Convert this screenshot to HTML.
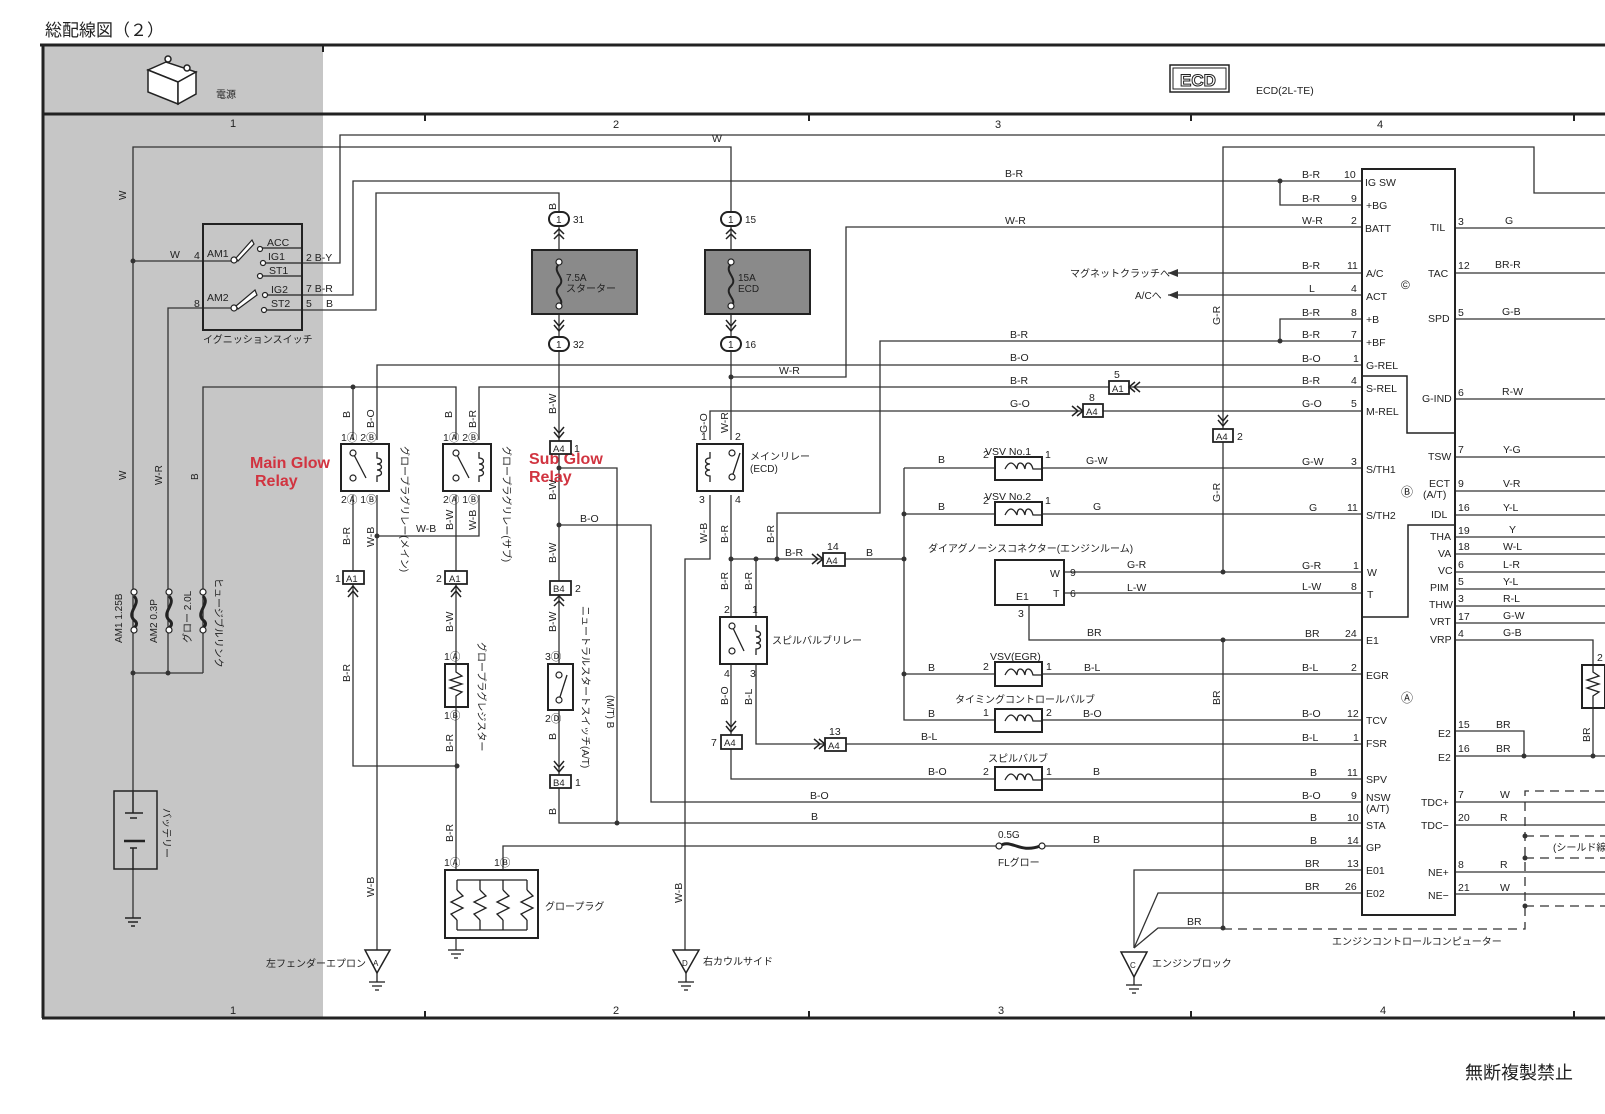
<!DOCTYPE html>
<html><head><meta charset="utf-8"><style>
html,body{margin:0;padding:0;background:#fff;}
svg{display:block;}
text{font-family:"Liberation Sans","Noto Sans CJK JP",sans-serif;fill:#222;}
.l{font-size:10.5px;}
.p{font-size:11px;}
.j{font-size:10px;}
</style></head><body>
<svg width="1605" height="1114" viewBox="0 0 1605 1114" xmlns="http://www.w3.org/2000/svg">
<rect x="0" y="0" width="1605" height="1114" fill="#fff"/>
<!-- frame -->
<rect x="42" y="45" width="281" height="973" fill="#c6c6c6"/>
<text x="45" y="36" style="font-size:17px">総配線図（２）</text>
<g stroke="#222" fill="none">
<line x1="40" y1="45" x2="1605" y2="45" stroke-width="3"/>
<line x1="42" y1="114" x2="1605" y2="114" stroke-width="3"/>
<line x1="42" y1="1018" x2="1605" y2="1018" stroke-width="3"/>
<line x1="43" y1="45" x2="43" y2="1018" stroke-width="3"/>
<line x1="323" y1="45" x2="323" y2="52" stroke-width="2"/>
<line x1="425" y1="114" x2="425" y2="121" stroke-width="2"/><line x1="809" y1="114" x2="809" y2="121" stroke-width="2"/>
<line x1="1191" y1="114" x2="1191" y2="121" stroke-width="2"/><line x1="1574" y1="114" x2="1574" y2="121" stroke-width="2"/>
<line x1="425" y1="1011" x2="425" y2="1018" stroke-width="2"/><line x1="809" y1="1011" x2="809" y2="1018" stroke-width="2"/>
<line x1="1191" y1="1011" x2="1191" y2="1018" stroke-width="2"/><line x1="1574" y1="1011" x2="1574" y2="1018" stroke-width="2"/>
</g>
<g class="p"><text x="230" y="127">1</text><text x="613" y="128">2</text><text x="995" y="128">3</text><text x="1377" y="128">4</text>
<text x="230" y="1014">1</text><text x="613" y="1014">2</text><text x="998" y="1014">3</text><text x="1380" y="1014">4</text></g>
<text x="1465" y="1079" style="font-size:18px">無断複製禁止</text>
<!-- battery icon -->
<g stroke="#222" stroke-width="1.5" fill="#fff">
<path d="M148 70 L178 82 L196 72 L166 62 Z"/><path d="M148 70 L148 92 L178 104 L178 82 Z"/><path d="M178 82 L196 72 L196 94 L178 104 Z"/>
<circle cx="168" cy="59" r="3"/><circle cx="187" cy="68" r="3"/>
</g>
<text x="216" y="98" class="j">電源</text>
<rect x="1170" y="65" width="59" height="27" fill="none" stroke="#222" stroke-width="1.5"/>
<rect x="1173" y="68" width="53" height="21" fill="none" stroke="#222" stroke-width="1"/>
<text x="1180" y="86" style="font-size:17px;font-weight:bold;fill:#fff;stroke:#222;stroke-width:1">ECD</text>
<text x="1256" y="94" class="l">ECD(2L-TE)</text>

<!-- wires -->
<g stroke="#333" stroke-width="1.3" fill="none">
<!-- left power -->
<polyline points="133,792 133,147 731,147 731,212"/>
<polyline points="133,261 233,261"/>
<polyline points="168,673 168,308 233,308"/>
<polyline points="203,673 203,387 456,387 456,440"/>
<polyline points="133,673 203,673"/>
<line x1="133" y1="870" x2="133" y2="918"/>
<!-- ign switch outputs -->
<polyline points="302,263 340,263 340,135 1605,135"/>
<polyline points="302,295 353,295 353,181 1362,181"/>
<polyline points="1280,181 1280,205 1362,205"/>
<polyline points="302,310 376,310 376,193 559,193 559,212"/>
<!-- fuses -->
<line x1="559" y1="226" x2="559" y2="337"/><line x1="731" y1="226" x2="731" y2="337"/>
<!-- glow relays -->
<polyline points="377,440 377,365 1362,365"/>
<polyline points="353,440 353,387"/>
<polyline points="479,440 479,387 1362,387"/>
<polyline points="353,495 353,571"/><polyline points="353,584 353,766 457,766"/>
<polyline points="377,495 377,950"/>
<polyline points="377,536 479,536 479,495"/>
<polyline points="456,495 456,571"/><polyline points="456,584 456,664"/><polyline points="456,707 456,870"/>
<polyline points="503,870 503,846 1000,846"/><polyline points="1040,846 1362,846"/>
<line x1="456" y1="938" x2="456" y2="950"/>
<!-- starter line -->
<polyline points="559,351 559,441"/><polyline points="559,454 559,581"/><polyline points="559,595 559,664"/>
<polyline points="559,710 559,775"/><polyline points="559,788 559,823 1362,823"/>
<polyline points="559,468 617,468 617,823"/>
<polyline points="559,525 651,525 651,802 1362,802"/>
<!-- main relay -->
<polyline points="731,351 731,440"/>
<polyline points="731,377 846,377 846,227 1362,227"/>
<polyline points="710,440 710,411 1083,411"/><line x1="1103" y1="411" x2="1362" y2="411"/>
<polyline points="710,495 710,559 685,559 685,950"/>
<polyline points="731,495 731,617"/>
<polyline points="731,559 823,559"/><polyline points="845,559 904,559"/>
<polyline points="777,559 777,513 880,513 880,341 1362,341"/>
<polyline points="1280,341 1280,319 1362,319"/>
<polyline points="756,559 756,617"/>
<polyline points="731,664 731,735"/><polyline points="731,749 731,779 995,779"/><line x1="1042" y1="779" x2="1362" y2="779"/>
<polyline points="756,664 756,744 825,744"/><line x1="846" y1="744" x2="1362" y2="744"/>
<!-- VSVs -->
<polyline points="904,468 904,720 995,720"/><line x1="1042" y1="720" x2="1362" y2="720"/>
<line x1="904" y1="468" x2="995" y2="468"/><line x1="1042" y1="468" x2="1362" y2="468"/>
<line x1="904" y1="514" x2="995" y2="514"/><line x1="1042" y1="514" x2="1362" y2="514"/>
<line x1="904" y1="674" x2="995" y2="674"/><line x1="1042" y1="674" x2="1362" y2="674"/>
<line x1="1064" y1="572" x2="1362" y2="572"/><line x1="1064" y1="593" x2="1362" y2="593"/>
<polyline points="1029,605 1029,640 1362,640"/>
<!-- G-R / BR verticals -->
<polyline points="1223,572 1223,147 1534,147 1534,193 1605,193"/>
<line x1="1223" y1="640" x2="1223" y2="929"/>
<line x1="1168" y1="273" x2="1362" y2="273"/><line x1="1168" y1="295" x2="1362" y2="295"/>
<!-- grounds C -->
<polyline points="1134,948 1134,870 1362,870"/>
<polyline points="1134,948 1158,893 1362,893"/>
<polyline points="1134,948 1158,928 1223,928"/>
<!-- right pins -->
<line x1="1455" y1="228" x2="1605" y2="228"/><line x1="1455" y1="273" x2="1605" y2="273"/>
<line x1="1455" y1="319" x2="1605" y2="319"/><line x1="1455" y1="399" x2="1605" y2="399"/>
<line x1="1455" y1="457" x2="1605" y2="457"/><line x1="1455" y1="491" x2="1605" y2="491"/>
<line x1="1455" y1="515" x2="1605" y2="515"/><line x1="1455" y1="537" x2="1605" y2="537"/>
<line x1="1455" y1="554" x2="1605" y2="554"/><line x1="1455" y1="572" x2="1605" y2="572"/>
<line x1="1455" y1="589" x2="1605" y2="589"/><line x1="1455" y1="606" x2="1605" y2="606"/>
<line x1="1455" y1="623" x2="1605" y2="623"/>
<polyline points="1455,640 1593,640 1593,665"/><line x1="1593" y1="708" x2="1593" y2="756"/>
<polyline points="1455,731 1524,731 1524,756"/><line x1="1455" y1="756" x2="1605" y2="756"/>
<line x1="1455" y1="802" x2="1605" y2="802"/><line x1="1455" y1="825" x2="1605" y2="825"/>
<line x1="1455" y1="872" x2="1605" y2="872"/><line x1="1455" y1="894" x2="1605" y2="894"/>
</g>
<g stroke="#333" stroke-width="1.3" fill="none" stroke-dasharray="9,6">
<polyline points="1223,929 1525,929 1525,791 1605,791"/>
<line x1="1525" y1="836" x2="1605" y2="836"/><line x1="1525" y1="858" x2="1605" y2="858"/><line x1="1525" y1="906" x2="1605" y2="906"/>
</g>
<!-- dots -->
<g fill="#333">
<circle cx="133" cy="261" r="2.5"/><circle cx="133" cy="673" r="2.5"/><circle cx="168" cy="673" r="2.5"/>
<circle cx="353" cy="387" r="2.5"/><circle cx="377" cy="536" r="2.5"/><circle cx="457" cy="766" r="2.5"/>
<circle cx="1280" cy="181" r="2.5"/><circle cx="1280" cy="341" r="2.5"/>
<circle cx="559" cy="468" r="2.5"/><circle cx="559" cy="525" r="2.5"/><circle cx="617" cy="823" r="2.5"/>
<circle cx="731" cy="377" r="2.5"/><circle cx="731" cy="559" r="2.5"/><circle cx="756" cy="559" r="2.5"/><circle cx="777" cy="559" r="2.5"/>
<circle cx="904" cy="559" r="2.5"/><circle cx="904" cy="514" r="2.5"/><circle cx="904" cy="674" r="2.5"/>
<circle cx="1223" cy="572" r="2.5"/><circle cx="1223" cy="640" r="2.5"/><circle cx="1223" cy="928" r="2.5"/>
<circle cx="1524" cy="756" r="2.5"/><circle cx="1593" cy="756" r="2.5"/>
<circle cx="1525" cy="836" r="2.5"/><circle cx="1525" cy="858" r="2.5"/><circle cx="1525" cy="906" r="2.5"/>
<polygon points="1168,273 1178,269 1178,277"/><polygon points="1168,295 1178,291 1178,299"/>
</g>
<!-- ignition switch -->
<rect x="203" y="224" width="99" height="106" fill="none" stroke="#222" stroke-width="2"/>
<g stroke="#222" stroke-width="1.2" fill="#fff">
<line x1="233" y1="261" x2="233" y2="261"/>
<circle cx="234" cy="260" r="3"/><polygon points="236,258 252,240 254,244 238,261"/>
<circle cx="234" cy="308" r="3"/><polygon points="236,306 255,290 257,295 238,309"/>
<circle cx="260" cy="249" r="2.5"/><circle cx="263" cy="263" r="2.5"/><circle cx="260" cy="276" r="2.5"/>
<circle cx="265" cy="295" r="2.5"/><circle cx="264" cy="310" r="2.5"/>
<line x1="262" y1="248" x2="302" y2="248" fill="none"/><line x1="266" y1="263" x2="302" y2="263"/><line x1="262" y1="276" x2="302" y2="276"/>
<line x1="268" y1="295" x2="302" y2="295"/><line x1="267" y1="310" x2="302" y2="310"/>
</g>
<g class="l"><text x="207" y="257">AM1</text><text x="207" y="301">AM2</text>
<text x="267" y="246">ACC</text><text x="268" y="260">IG1</text><text x="269" y="274">ST1</text><text x="271" y="293">IG2</text><text x="271" y="307">ST2</text>
<text x="170" y="258">W</text><text x="194" y="259">4</text><text x="194" y="307">8</text>
<text x="306" y="261">2 B-Y</text><text x="306" y="292">7 B-R</text><text x="306" y="307">5</text><text x="326" y="307">B</text></g>
<text x="203" y="343" class="j">イグニッションスイッチ</text>
<!-- fusible links -->
<g stroke="#222" stroke-width="3" fill="none">
<path d="M134 596 C142 604,126 612,134 620 C142 626,128 630,134 630"/>
<path d="M169 596 C177 604,161 612,169 620 C177 626,163 630,169 630"/>
<path d="M203 596 C211 604,195 612,203 620 C211 626,197 630,203 630"/>
</g>
<g fill="#fff" stroke="#222" stroke-width="1.2">
<circle cx="134" cy="592" r="3"/><circle cx="134" cy="630" r="3"/><circle cx="169" cy="592" r="3"/><circle cx="169" cy="630" r="3"/><circle cx="203" cy="592" r="3"/><circle cx="203" cy="630" r="3"/>
</g>
<g class="j">
<text transform="translate(122,643) rotate(-90)">AM1 1.25B</text>
<text transform="translate(157,643) rotate(-90)">AM2 0.3P</text>
<text transform="translate(191,643) rotate(-90)">グロー 2.0L</text>
<text transform="translate(215,578) rotate(90)">ヒュージブルリンク</text>
<text transform="translate(126,480) rotate(-90)">W</text>
<text transform="translate(162,485) rotate(-90)">W-R</text>
<text transform="translate(198,480) rotate(-90)">B</text>
<text transform="translate(126,200) rotate(-90)">W</text>
<text transform="translate(163,808) rotate(90)">バッテリー</text>
</g>
<!-- battery -->
<rect x="114" y="791" width="43" height="78" fill="none" stroke="#222" stroke-width="1.5"/>
<g stroke="#222" stroke-width="1.5"><line x1="125" y1="813" x2="143" y2="813"/><line x1="130" y1="818" x2="137" y2="818"/><line x1="124" y1="841" x2="145" y2="841" stroke-width="2.5"/><line x1="130" y1="848" x2="137" y2="848"/>
<line x1="133" y1="792" x2="133" y2="813"/><line x1="133" y1="848" x2="133" y2="870"/>
<line x1="125" y1="918" x2="141" y2="918"/><line x1="128" y1="922" x2="138" y2="922"/><line x1="131" y1="926" x2="135" y2="926"/></g>
<!-- red labels -->
<g style="font-size:16px;font-weight:bold;fill:#d13440">
<text x="250" y="468" style="fill:#d13440">Main Glow</text><text x="255" y="486" style="fill:#d13440">Relay</text>
<text x="529" y="464" style="fill:#d13440">Sub Glow</text><text x="529" y="482" style="fill:#d13440">Relay</text></g>
<!-- relays -->
<g stroke="#222" stroke-width="2" fill="none">
<rect x="341" y="444" width="48" height="47"/><rect x="443" y="444" width="48" height="47"/>
<rect x="697" y="444" width="46" height="47"/><rect x="720" y="617" width="47" height="47"/>
<rect x="548" y="664" width="25" height="46"/>
<rect x="445" y="664" width="23" height="43"/>
<rect x="445" y="870" width="93" height="68"/>
<rect x="532" y="250" width="105" height="64" fill="#8a8a8a"/>
<rect x="705" y="250" width="105" height="64" fill="#8a8a8a"/>
<rect x="1362" y="169" width="93" height="746"/>
<polyline points="1362,376 1407,376 1407,433 1455,433" stroke-width="1.5"/>
<polyline points="1455,525 1408,525 1408,617 1362,617" stroke-width="1.5"/>
<rect x="995" y="560" width="69" height="45"/>
<rect x="995" y="457" width="47" height="23"/><rect x="995" y="502" width="47" height="23"/>
<rect x="995" y="662" width="47" height="24"/><rect x="995" y="709" width="47" height="23"/><rect x="995" y="767" width="47" height="23"/>
<rect x="1582" y="665" width="23" height="43"/>
</g>
<g stroke="#222" stroke-width="1.3" fill="none">
<!-- switch contacts -->
<line x1="353" y1="453" x2="366" y2="478"/><line x1="456" y1="453" x2="469" y2="478"/>
<line x1="732" y1="477" x2="740" y2="453"/><line x1="732" y1="626" x2="744" y2="651"/>
<line x1="559" y1="700" x2="567" y2="675"/>
<path d="M377 452 v6 c6 0 6 6 0 6 c6 0 6 6 0 6 c6 0 6 6 0 6 v6"/>
<path d="M479 452 v6 c6 0 6 6 0 6 c6 0 6 6 0 6 c6 0 6 6 0 6 v6"/>
<path d="M710 452 v6 c-6 0 -6 6 0 6 c-6 0 -6 6 0 6 c-6 0 -6 6 0 6 v6"/>
<path d="M756 625 v6 c6 0 6 6 0 6 c6 0 6 6 0 6 c6 0 6 6 0 6 v6"/>
<polyline points="456,664 456,672 462,676 450,680 462,684 450,688 462,692 456,696 456,707"/>
<polyline points="457,890 463,896 451,902 463,908 451,914 457,920"/>
<polyline points="480,890 486,896 474,902 486,908 474,914 480,920"/>
<polyline points="503,890 509,896 497,902 509,908 497,914 503,920"/>
<polyline points="527,890 533,896 521,902 533,908 521,914 527,920"/>
<polyline points="457,880 527,880"/><polyline points="457,930 527,930"/>
<line x1="457" y1="880" x2="457" y2="890"/><line x1="480" y1="880" x2="480" y2="890"/><line x1="503" y1="880" x2="503" y2="890"/><line x1="527" y1="880" x2="527" y2="890"/>
<line x1="457" y1="920" x2="457" y2="930"/><line x1="480" y1="920" x2="480" y2="930"/><line x1="503" y1="920" x2="503" y2="930"/><line x1="527" y1="920" x2="527" y2="930"/>
<polyline points="1593,665 1593,672 1599,676 1587,680 1599,684 1587,688 1599,692 1593,696 1593,708"/>
<!-- fuse curves -->
<path d="M559 264 c-8 8 8 14 0 22 c-8 8 8 14 0 20" stroke-width="2"/>
<path d="M731 264 c-8 8 8 14 0 22 c-8 8 8 14 0 20" stroke-width="2"/>
<path d="M1000 846 c10 -8 20 8 40 0" stroke-width="3"/>
<!-- VSV coils -->
<path d="M1005 469 c4 -8 8 -8 12 0 c0 -8 6 -8 8 0 c0 -8 6 -8 8 0 h8"/>
<path d="M1005 515 c4 -8 8 -8 12 0 c0 -8 6 -8 8 0 c0 -8 6 -8 8 0 h8"/>
<path d="M1005 675 c4 -8 8 -8 12 0 c0 -8 6 -8 8 0 c0 -8 6 -8 8 0 h8"/>
<path d="M1005 721 c4 -8 8 -8 12 0 c0 -8 6 -8 8 0 c0 -8 6 -8 8 0 h8"/>
<path d="M1005 780 c4 -8 8 -8 12 0 c0 -8 6 -8 8 0 c0 -8 6 -8 8 0 h8"/>
<!-- grounds -->
<polygon points="365,950 390,950 377,973" stroke-width="1.5"/><line x1="377" y1="973" x2="377" y2="982"/>
<line x1="369" y1="982" x2="385" y2="982"/><line x1="372" y1="986" x2="382" y2="986"/><line x1="375" y1="990" x2="379" y2="990"/>
<polygon points="673,950 699,950 686,973" stroke-width="1.5"/><line x1="686" y1="973" x2="686" y2="982"/>
<line x1="678" y1="982" x2="694" y2="982"/><line x1="681" y1="986" x2="691" y2="986"/><line x1="684" y1="990" x2="688" y2="990"/>
<polygon points="1121,952 1147,952 1134,977" stroke-width="1.5"/><line x1="1134" y1="977" x2="1134" y2="985"/>
<line x1="1126" y1="985" x2="1142" y2="985"/><line x1="1129" y1="989" x2="1139" y2="989"/><line x1="1132" y1="993" x2="1136" y2="993"/>
<line x1="448" y1="950" x2="464" y2="950"/><line x1="451" y1="954" x2="461" y2="954"/><line x1="454" y1="958" x2="458" y2="958"/>
</g>
<g fill="#fff" stroke="#222" stroke-width="1.2">
<circle cx="353" cy="453" r="3"/><circle cx="353" cy="478" r="3"/><circle cx="456" cy="453" r="3"/><circle cx="456" cy="478" r="3"/>
<circle cx="732" cy="453" r="3"/><circle cx="732" cy="477" r="3"/><circle cx="732" cy="626" r="3"/><circle cx="732" cy="651" r="3"/>
<circle cx="559" cy="675" r="3"/><circle cx="559" cy="700" r="3"/>
<circle cx="559" cy="262" r="3"/><circle cx="559" cy="306" r="3"/><circle cx="731" cy="262" r="3"/><circle cx="731" cy="306" r="3"/>
<circle cx="999" cy="846" r="3"/><circle cx="1042" cy="846" r="3"/>
</g>
<!-- fuse connectors -->
<g stroke="#222" stroke-width="2" fill="#fff">
<rect x="549" y="212" width="20" height="14" rx="7"/><rect x="549" y="337" width="20" height="14" rx="7"/>
<rect x="721" y="212" width="20" height="14" rx="7"/><rect x="721" y="337" width="20" height="14" rx="7"/>
</g>
<g class="j"><text x="556" y="223">1</text><text x="556" y="348">1</text><text x="728" y="223">1</text><text x="728" y="348">1</text>
<text x="573" y="223">31</text><text x="573" y="348">32</text><text x="745" y="223">15</text><text x="745" y="348">16</text>
<text x="566" y="281">7.5A</text><text x="566" y="292">スターター</text><text x="738" y="281">15A</text><text x="738" y="292">ECD</text></g>
<!-- small connectors -->
<g stroke="#222" stroke-width="1.8" fill="#fff">
<rect x="343" y="571" width="21" height="13"/><rect x="445" y="571" width="22" height="13"/>
<rect x="550" y="441" width="21" height="13"/><rect x="550" y="581" width="21" height="14"/><rect x="550" y="775" width="21" height="13"/>
<rect x="721" y="735" width="21" height="14"/><rect x="823" y="553" width="22" height="13"/><rect x="825" y="738" width="21" height="13"/>
<rect x="1109" y="381" width="20" height="13"/><rect x="1083" y="404" width="20" height="13"/><rect x="1213" y="429" width="20" height="13"/>
</g>
<g style="font-size:9.5px">
<text x="346" y="582">A1</text><text x="449" y="582">A1</text><text x="553" y="452">A4</text><text x="553" y="592">B4</text><text x="553" y="786">B4</text>
<text x="724" y="746">A4</text><text x="826" y="564">A4</text><text x="828" y="749">A4</text><text x="1112" y="392">A1</text><text x="1086" y="415">A4</text><text x="1216" y="440">A4</text>
</g>
<g class="l"><text x="335" y="582">1</text><text x="436" y="582">2</text><text x="574" y="452">1</text><text x="575" y="592">2</text><text x="575" y="786">1</text>
<text x="711" y="746">7</text><text x="827" y="550">14</text><text x="829" y="735">13</text><text x="1114" y="378">5</text><text x="1089" y="401">8</text><text x="1237" y="440">2</text></g>
<!-- arrows (chevrons) -->
<g stroke="#222" stroke-width="1.5" fill="none">
<polyline points="348,592 353,586 358,592"/><polyline points="348,597 353,591 358,597"/>
<polyline points="451,592 456,586 461,592"/><polyline points="451,597 456,591 461,597"/>
<polyline points="554,432 559,438 564,432"/><polyline points="554,427 559,433 564,427"/>
<polyline points="554,601 559,596 564,601"/><polyline points="554,606 559,601 564,606"/>
<polyline points="554,766 559,772 564,766"/><polyline points="554,761 559,767 564,761"/>
<polyline points="726,726 731,732 736,726"/><polyline points="726,721 731,727 736,721"/>
<polyline points="812,554 818,559 812,564"/><polyline points="817,554 823,559 817,564"/>
<polyline points="814,739 820,744 814,749"/><polyline points="819,739 825,744 819,749"/>
<polyline points="1072,406 1078,411 1072,416"/><polyline points="1077,406 1083,411 1077,416"/>
<polyline points="1140,382 1134,387 1140,392"/><polyline points="1135,382 1129,387 1135,392"/>
<polyline points="1218,420 1223,426 1228,420"/><polyline points="1218,415 1223,421 1228,415"/>
<polyline points="554,234 559,229 564,234"/><polyline points="554,239 559,234 564,239"/>
<polyline points="726,234 731,229 736,234"/><polyline points="726,239 731,234 736,239"/>
<polyline points="554,325 559,331 564,325"/><polyline points="554,320 559,326 564,320"/>
<polyline points="726,325 731,331 736,325"/><polyline points="726,320 731,326 736,320"/>
</g>
<!-- relay labels -->
<g class="l">
<text x="341" y="441">1Ⓐ 2Ⓑ</text><text x="341" y="503">2Ⓐ 1Ⓑ</text>
<text x="443" y="441">1Ⓐ 2Ⓑ</text><text x="443" y="503">2Ⓐ 1Ⓑ</text>
<text x="701" y="440">1</text><text x="735" y="440">2</text><text x="699" y="503">3</text><text x="735" y="503">4</text>
<text x="724" y="613">2</text><text x="752" y="613">1</text><text x="724" y="677">4</text><text x="750" y="677">3</text>
<text x="545" y="660">3Ⓓ</text><text x="545" y="722">2Ⓓ</text>
<text x="444" y="660">1Ⓐ</text><text x="444" y="719">1Ⓑ</text>
<text x="444" y="866">1Ⓐ</text><text x="494" y="866">1Ⓑ</text>
</g>
<g class="j">
<text transform="translate(401,446) rotate(90)">グロープラグリレー(メイン)</text>
<text transform="translate(503,446) rotate(90)">グロープラグリレー(サブ)</text>
<text transform="translate(478,642) rotate(90)">グロープラグレジスター</text>
<text transform="translate(582,606) rotate(90)">ニュートラルスタートスイッチ(A/T)</text>
<text transform="translate(607,695) rotate(90)">(M/T) B</text>
<text x="750" y="460">メインリレー</text><text x="750" y="472">(ECD)</text>
<text x="772" y="644">スピルバルブリレー</text>
<text x="545" y="910">グロープラグ</text>
<text x="266" y="967">左フェンダーエプロン</text><text x="703" y="965">右カウルサイド</text><text x="1152" y="967">エンジンブロック</text>
<text x="928" y="552">ダイアグノーシスコネクター(エンジンルーム)</text>
<text x="955" y="703">タイミングコントロールバルブ</text>
<text x="988" y="762">スピルバルブ</text>
<text x="1070" y="277">マグネットクラッチへ</text><text x="1135" y="299">A/Cへ</text>
<text x="1553" y="851">(シールド線</text>
<text x="1332" y="945">エンジンコントロールコンピューター</text>
<text x="998" y="838">0.5G</text><text x="998" y="866">FLグロー</text>
</g>
<g style="font-size:8px"><text x="373" y="966">A</text><text x="682" y="966">D</text><text x="1130" y="968">C</text></g>
<!-- vertical wire labels -->
<g class="l">
<text transform="translate(350,418) rotate(-90)">B</text><text transform="translate(374,428) rotate(-90)">B-O</text>
<text transform="translate(452,418) rotate(-90)">B</text><text transform="translate(476,428) rotate(-90)">B-R</text>
<text transform="translate(350,545) rotate(-90)">B-R</text><text transform="translate(374,547) rotate(-90)">W-B</text>
<text transform="translate(453,530) rotate(-90)">B-W</text><text transform="translate(476,530) rotate(-90)">W-B</text>
<text transform="translate(350,682) rotate(-90)">B-R</text><text transform="translate(453,632) rotate(-90)">B-W</text>
<text transform="translate(453,752) rotate(-90)">B-R</text><text transform="translate(453,842) rotate(-90)">B-R</text>
<text transform="translate(374,897) rotate(-90)">W-B</text>
<text transform="translate(556,210) rotate(-90)">B</text>
<text transform="translate(556,414) rotate(-90)">B-W</text><text transform="translate(556,500) rotate(-90)">B-W</text>
<text transform="translate(556,563) rotate(-90)">B-W</text><text transform="translate(556,632) rotate(-90)">B-W</text>
<text transform="translate(556,740) rotate(-90)">B</text><text transform="translate(556,815) rotate(-90)">B</text>
<text transform="translate(707,433) rotate(-90)">G-O</text><text transform="translate(728,433) rotate(-90)">W-R</text>
<text transform="translate(707,543) rotate(-90)">W-B</text><text transform="translate(728,543) rotate(-90)">B-R</text>
<text transform="translate(774,543) rotate(-90)">B-R</text>
<text transform="translate(728,590) rotate(-90)">B-R</text><text transform="translate(752,590) rotate(-90)">B-R</text>
<text transform="translate(728,705) rotate(-90)">B-O</text><text transform="translate(752,705) rotate(-90)">B-L</text>
<text transform="translate(682,903) rotate(-90)">W-B</text>
<text transform="translate(1220,325) rotate(-90)">G-R</text><text transform="translate(1220,502) rotate(-90)">G-R</text>
<text transform="translate(1220,705) rotate(-90)">BR</text><text transform="translate(1590,742) rotate(-90)">BR</text>
</g>
<!-- horizontal wire labels (middle) -->
<g class="l">
<text x="712" y="142">W</text><text x="1005" y="177">B-R</text><text x="1005" y="224">W-R</text><text x="1010" y="338">B-R</text>
<text x="1010" y="361">B-O</text><text x="1010" y="384">B-R</text><text x="1010" y="407">G-O</text><text x="779" y="374">W-R</text>
<text x="416" y="532">W-B</text><text x="580" y="522">B-O</text>
<text x="785" y="556">B-R</text><text x="866" y="556">B</text>
<text x="938" y="463">B</text><text x="938" y="510">B</text><text x="928" y="671">B</text><text x="928" y="717">B</text>
<text x="1086" y="464">G-W</text><text x="1093" y="510">G</text>
<text x="1127" y="568">G-R</text><text x="1127" y="591">L-W</text><text x="1087" y="636">BR</text>
<text x="1084" y="671">B-L</text><text x="1083" y="717">B-O</text><text x="921" y="740">B-L</text>
<text x="928" y="775">B-O</text><text x="1093" y="775">B</text><text x="810" y="799">B-O</text><text x="811" y="820">B</text>
<text x="1093" y="843">B</text><text x="1187" y="925">BR</text>
<text x="983" y="458">2</text><text x="1045" y="458">1</text><text x="983" y="504">2</text><text x="1045" y="504">1</text>
<text x="983" y="670">2</text><text x="1046" y="670">1</text><text x="983" y="716">1</text><text x="1046" y="716">2</text><text x="983" y="775">2</text><text x="1046" y="775">1</text>
<text x="1070" y="576">9</text><text x="1070" y="597">6</text><text x="1050" y="577">W</text><text x="1053" y="597">T</text><text x="1016" y="600">E1</text><text x="1018" y="617">3</text>
<text x="985" y="455">VSV No.1</text><text x="985" y="500">VSV No.2</text><text x="990" y="660">VSV(EGR)</text>
</g>
<!-- ECU left pins -->
<g class="l">
<text x="1302" y="178">B-R</text><text x="1344" y="178">10</text>
<text x="1302" y="202">B-R</text><text x="1351" y="202">9</text>
<text x="1302" y="224">W-R</text><text x="1351" y="224">2</text>
<text x="1302" y="269">B-R</text><text x="1347" y="269">11</text>
<text x="1309" y="292">L</text><text x="1351" y="292">4</text>
<text x="1302" y="316">B-R</text><text x="1351" y="316">8</text>
<text x="1302" y="338">B-R</text><text x="1351" y="338">7</text>
<text x="1302" y="362">B-O</text><text x="1353" y="362">1</text>
<text x="1302" y="384">B-R</text><text x="1351" y="384">4</text>
<text x="1302" y="407">G-O</text><text x="1351" y="407">5</text>
<text x="1302" y="465">G-W</text><text x="1351" y="465">3</text>
<text x="1309" y="511">G</text><text x="1347" y="511">11</text>
<text x="1302" y="569">G-R</text><text x="1353" y="569">1</text>
<text x="1302" y="590">L-W</text><text x="1351" y="590">8</text>
<text x="1305" y="637">BR</text><text x="1345" y="637">24</text>
<text x="1302" y="671">B-L</text><text x="1351" y="671">2</text>
<text x="1302" y="717">B-O</text><text x="1347" y="717">12</text>
<text x="1302" y="741">B-L</text><text x="1353" y="741">1</text>
<text x="1310" y="776">B</text><text x="1347" y="776">11</text>
<text x="1302" y="799">B-O</text><text x="1351" y="799">9</text>
<text x="1310" y="821">B</text><text x="1347" y="821">10</text>
<text x="1310" y="844">B</text><text x="1347" y="844">14</text>
<text x="1305" y="867">BR</text><text x="1347" y="867">13</text>
<text x="1305" y="890">BR</text><text x="1345" y="890">26</text>
<text x="1365" y="186">IG SW</text><text x="1366" y="209">+BG</text><text x="1365" y="232">BATT</text>
<text x="1366" y="277">A/C</text><text x="1366" y="300">ACT</text><text x="1366" y="323">+B</text><text x="1366" y="346">+BF</text>
<text x="1366" y="369">G-REL</text><text x="1366" y="392">S-REL</text><text x="1366" y="415">M-REL</text>
<text x="1366" y="473">S/TH1</text><text x="1366" y="519">S/TH2</text><text x="1367" y="576">W</text><text x="1367" y="598">T</text>
<text x="1366" y="644">E1</text><text x="1366" y="679">EGR</text><text x="1366" y="724">TCV</text><text x="1366" y="747">FSR</text>
<text x="1366" y="783">SPV</text><text x="1366" y="801">NSW</text><text x="1366" y="812">(A/T)</text><text x="1366" y="829">STA</text>
<text x="1366" y="851">GP</text><text x="1366" y="874">E01</text><text x="1366" y="897">E02</text>
<text x="1401" y="289" style="font-size:12px">©</text><text x="1401" y="496" style="font-size:12px">Ⓑ</text><text x="1401" y="702" style="font-size:12px">Ⓐ</text>
<!-- right side -->
<text x="1430" y="231">TIL</text><text x="1428" y="277">TAC</text><text x="1428" y="322">SPD</text><text x="1422" y="402">G-IND</text>
<text x="1428" y="460">TSW</text><text x="1429" y="487">ECT</text><text x="1423" y="498">(A/T)</text><text x="1431" y="518">IDL</text>
<text x="1430" y="540">THA</text><text x="1438" y="557">VA</text><text x="1438" y="574">VC</text><text x="1430" y="591">PIM</text>
<text x="1429" y="608">THW</text><text x="1430" y="625">VRT</text><text x="1430" y="643">VRP</text>
<text x="1438" y="737">E2</text><text x="1438" y="761">E2</text><text x="1421" y="806">TDC+</text><text x="1421" y="829">TDC−</text>
<text x="1428" y="876">NE+</text><text x="1428" y="899">NE−</text>
<text x="1458" y="225">3</text><text x="1458" y="269">12</text><text x="1458" y="316">5</text><text x="1458" y="396">6</text>
<text x="1458" y="453">7</text><text x="1458" y="487">9</text><text x="1458" y="511">16</text><text x="1458" y="534">19</text>
<text x="1458" y="550">18</text><text x="1458" y="568">6</text><text x="1458" y="585">5</text><text x="1458" y="602">3</text><text x="1458" y="620">17</text><text x="1458" y="637">4</text>
<text x="1458" y="728">15</text><text x="1458" y="752">16</text><text x="1458" y="798">7</text><text x="1458" y="821">20</text><text x="1458" y="868">8</text><text x="1458" y="891">21</text>
<text x="1505" y="224">G</text><text x="1495" y="268">BR-R</text><text x="1502" y="315">G-B</text><text x="1502" y="395">R-W</text>
<text x="1503" y="453">Y-G</text><text x="1503" y="487">V-R</text><text x="1503" y="511">Y-L</text><text x="1509" y="533">Y</text>
<text x="1503" y="550">W-L</text><text x="1503" y="568">L-R</text><text x="1503" y="585">Y-L</text><text x="1503" y="602">R-L</text><text x="1503" y="619">G-W</text><text x="1503" y="636">G-B</text>
<text x="1496" y="728">BR</text><text x="1496" y="752">BR</text><text x="1500" y="798">W</text><text x="1500" y="821">R</text><text x="1500" y="868">R</text><text x="1500" y="891">W</text>
<text x="1597" y="661">2</text>
</g>
</svg>
</body></html>
